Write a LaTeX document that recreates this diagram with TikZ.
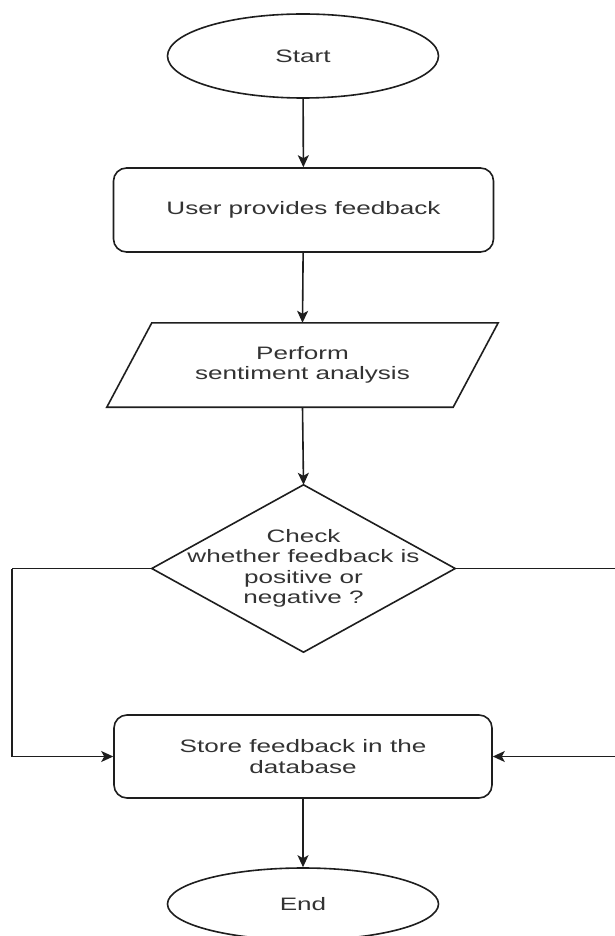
\documentclass[tikz,border=0pt]{standalone}
\usepackage{fontspec}
\usetikzlibrary{shapes.geometric,arrows.meta,calc}
\newfontfamily\flowfont{Liberation Sans}[FakeStretch=1.45]
\definecolor{inkline}{HTML}{1E1E1E}
\definecolor{inktext}{HTML}{333333}
\tikzset{
  every node/.style={font=\flowfont\fontsize{18}{20.5}\selectfont, text=inktext, align=center, inner sep=0pt},
  lineart/.style={draw=inkline, line width=1.6pt},
  terminal/.style={lineart, ellipse, minimum width=271pt},
  processbox/.style={lineart, rectangle, rounded corners=13pt, minimum width=380pt, minimum height=84pt},
  framebox/.style={rectangle, minimum height=84pt},
  flow/.style={lineart, -{Stealth[length=12pt, width=11pt, inset=3pt]}},
  wire/.style={lineart}
}
\begin{document}
\begin{tikzpicture}[x=1pt, y=-1pt]
  \useasboundingbox[fill=white] (0,0) rectangle (614,936);

  % terminals and process boxes
  \node[terminal, minimum height=84pt] (start) at (303,56) {Start};
  \node[processbox] (user) at (303.5,210) {User provides feedback};

  % input/output parallelogram drawn around an invisible frame
  \node[framebox, minimum width=391pt] (analysis) at (302.5,365) {Perform\\sentiment analysis};
  \draw[lineart] ($(analysis.north west)+(45,0)$) -- (analysis.north east)
    -- ($(analysis.south east)+(-45,0)$) -- (analysis.south west) -- cycle;

  % decision diamond drawn from the frame's anchors
  \node[rectangle, minimum width=303pt, minimum height=167pt] (check) at (303.5,568.5)
    {Check\\whether feedback is\\positive or\\negative ?};
  \draw[lineart] (check.north) -- (check.east) -- (check.south) -- (check.west) -- cycle;

  \node[processbox, minimum width=378pt, minimum height=83pt] (store) at (303,756.5)
    {Store feedback in the\\database};
  \node[terminal, minimum height=72pt] (end) at (303,904) {End};

  % side routes; the right one runs just past the page edge
  \coordinate (leftturn) at (12,568.5);
  \coordinate (rightturn) at (618,568.5);

  % connectors
  \draw[flow] (start) -- (user);
  \draw[flow] (user) -- (analysis.north);
  \draw[flow] (analysis.south) -- (check.north);
  \draw[wire] (check.west) -- (leftturn);
  \draw[flow] (leftturn) |- (store.west);
  \draw[wire] (check.east) -- (rightturn);
  \draw[flow] (rightturn) |- (store.east);
  \draw[flow] (store) -- (end);
\end{tikzpicture}
\end{document}
